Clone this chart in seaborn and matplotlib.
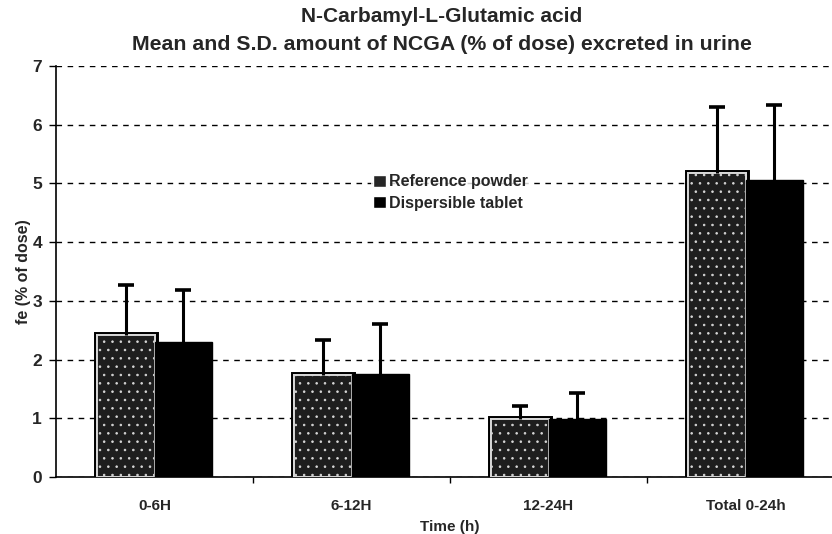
import numpy as np
import pandas as pd
import matplotlib
matplotlib.use("Agg")
import matplotlib.pyplot as plt
import matplotlib.patheffects as pe
import seaborn as sns

# Urinary excretion of NCGA, mean and S.D. (% of dose)
periods = ["0-6H", "6-12H", "12-24H", "Total 0-24h"]
formulations = ["Reference powder", "Dispersible tablet"]
ref_mean = [2.42, 1.74, 0.99, 5.18]
ref_sd = [0.85, 0.60, 0.22, 1.12]
tab_mean = [2.30, 1.76, 0.99, 5.06]
tab_sd = [0.89, 0.85, 0.44, 1.28]

df = pd.DataFrame({
    "period": periods * 2,
    "formulation": [formulations[0]] * 4 + [formulations[1]] * 4,
    "fe": ref_mean + tab_mean,
    "sd": ref_sd + tab_sd,
})

sns.set_theme(style="white")
plt.rcParams["font.family"] = ["Liberation Sans", "DejaVu Sans"]
plt.rcParams["font.weight"] = "bold"
plt.rcParams["hatch.linewidth"] = 0.6

fig = plt.figure(figsize=(8.32, 5.34), dpi=100)
ax = fig.add_axes([56 / 832, 1 - 477 / 534, 788 / 832, 411 / 534])

sns.barplot(data=df, x="period", y="fe", hue="formulation", order=periods,
            hue_order=formulations, palette=["#262626", "#000000"],
            width=0.58, gap=0, errorbar=None, saturation=1, ax=ax, zorder=3)

n = len(periods)
bars = ax.patches[: 2 * n]
for i, b in enumerate(bars):
    if i < n:
        # stippled powder bar: dark dotted fill, light inner edge, black outer edge
        b.set_facecolor("#1e1e1e")
        b.set_hatch("..")
        b.set_edgecolor("#d8d8d8")
        b.set_linewidth(1.4)
        b.set_path_effects([pe.withStroke(linewidth=5, foreground="black"), pe.Normal()])
    else:
        b.set_facecolor("black")
        b.set_edgecolor("black")
        b.set_linewidth(1.0)

# upward-only S.D. whiskers
xs = [b.get_x() + b.get_width() / 2 for b in bars]
means = df["fe"].to_numpy()
sds = df["sd"].to_numpy()
eb = ax.errorbar(xs, means, yerr=[np.zeros_like(sds), sds], fmt="none",
                 ecolor="black", elinewidth=2.2, capsize=6, capthick=2.6, zorder=4)
caps = eb[1]
if len(caps) == 2:
    caps[0].set_visible(False)

ax.set_ylim(0, 7)
ax.set_xlim(-0.5, n - 0.5)
ax.set_yticks(range(0, 8))
ax.yaxis.grid(True, linestyle=(0, (4, 4)), color="black", linewidth=1.0, zorder=0)
ax.set_axisbelow(True)

for s in ["top", "right"]:
    ax.spines[s].set_visible(False)
ax.spines["left"].set_color("black")
ax.spines["left"].set_linewidth(1.2)
ax.spines["bottom"].set_color("black")
ax.spines["bottom"].set_linewidth(1.2)

ax.tick_params(axis="y", which="major", left=True, length=5, width=1, color="black",
               labelsize=12.5, pad=5)
ax.tick_params(axis="x", which="major", bottom=False, labelsize=11, pad=10)
ax.set_xticks(np.arange(0.5, n - 0.5), minor=True)
ax.tick_params(axis="x", which="minor", bottom=True, length=4, width=1, color="black")
for lab in ax.get_xticklabels() + ax.get_yticklabels():
    lab.set_fontweight("bold")

ax.set_xlabel("Time (h)", fontsize=11, fontweight="bold", labelpad=5)
ax.set_ylabel("fe (% of dose)", fontsize=11.5, fontweight="bold", labelpad=1)

fig.text(442 / 832, 1 - 17 / 534, "N-Carbamyl-L-Glutamic acid", ha="center", va="center",
         fontsize=15, fontweight="bold")
fig.text(442 / 832, 1 - 44 / 534,
         "Mean and S.D. amount of NCGA (% of dose) excreted in urine",
         ha="center", va="center", fontsize=15.3, fontweight="bold")

leg = ax.legend(loc="upper left", bbox_to_anchor=(0.39, 0.76), frameon=True,
                facecolor="white", edgecolor="none", fontsize=11.5,
                handlelength=0.8, handleheight=0.8, handletextpad=0.2,
                labelspacing=0.4, borderpad=0.1)
for t in leg.get_texts():
    t.set_fontweight("bold")
leg.set_zorder(5)

fig.savefig("out.png", dpi=100)
